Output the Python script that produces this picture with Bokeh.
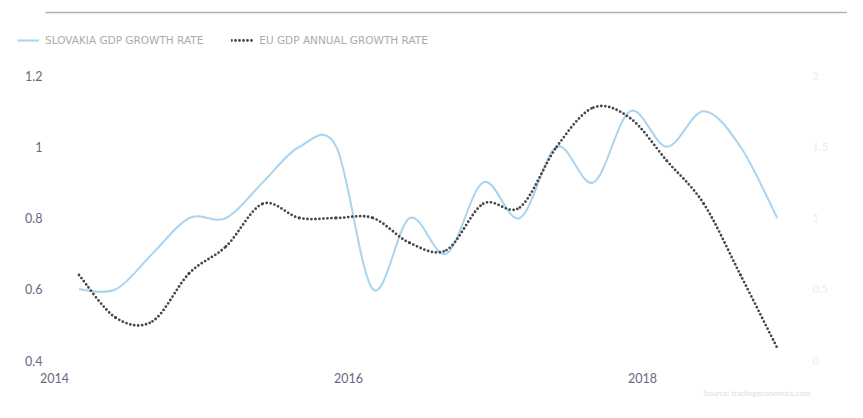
import numpy as np
from bokeh.plotting import figure
from bokeh.models import (Range1d, LinearAxis, FixedTicker, ColumnDataSource,
                          Legend, LegendItem, Title)
from bokeh.embed import file_html
from bokeh.resources import INLINE

# ---------------- data ----------------
quarters = ["2014-03", "2014-06", "2014-09", "2014-12",
            "2015-03", "2015-06", "2015-09", "2015-12",
            "2016-03", "2016-06", "2016-09", "2016-12",
            "2017-03", "2017-06", "2017-09", "2017-12",
            "2018-03", "2018-06", "2018-09", "2018-12"]
slovakia_gdp = [0.6, 0.6, 0.7, 0.8, 0.8, 0.9, 1.0, 1.0, 0.6, 0.8,
                0.7, 0.9, 0.8, 1.0, 0.9, 1.1, 1.0, 1.1, 1.0, 0.8]
eu_gdp = [0.64, 0.52, 0.51, 0.645, 0.72, 0.84, 0.80, 0.80, 0.80, 0.73,
          0.71, 0.84, 0.83, 1.00, 1.11, 1.08, 0.96, 0.84, 0.64, 0.435]
series_names = ["SLOVAKIA GDP GROWTH RATE", "EU GDP ANNUAL GROWTH RATE"]
x_ticks = [2014, 2016, 2018]
x_tick_labels = ["2014", "2016", "2018"]
left_ticks = [0.4, 0.6, 0.8, 1.0, 1.2]
left_tick_labels = ["0.4", "0.6", "0.8", "1", "1.2"]
right_ticks = [0, 0.5, 1, 1.5, 2]
right_tick_labels = ["0", "0.5", "1", "1.5", "2"]
source_text = "Source: tradingeconomics.com"

# ---------------- styles / layout ----------------
SK_COLOR = "#a9d3ee"
EU_COLOR = "#474747"
TICK_COLOR = "#6e6585"
LEGEND_TEXT = "#ababab"

W, H = 847, 402
FL, FR = 2, W          # frame left / right (px)
FT, FB = 0, 360        # frame top / bottom (px)
X0_PX, PX_PER_YEAR = 54, 147.0   # where 2014 sits, pixels per year
Y_LO, Y_HI, Y_LO_PX, Y_HI_PX = 0.4, 1.2, 360, 75


def to_year(q):
    y, m = q.split("-")
    return int(y) + (int(m) - 1) / 12.0


def px_to_x(px):
    return x_ticks[0] + (px - X0_PX) / PX_PER_YEAR


def px_to_y(py):
    return Y_LO + (Y_LO_PX - py) * (Y_HI - Y_LO) / (Y_LO_PX - Y_HI_PX)


def smooth_segments(xs, ys):
    """Catmull-Rom spline through the points, expressed as Bezier segments."""
    x = np.asarray(xs, float)
    y = np.asarray(ys, float)
    n = len(x)
    xp = np.concatenate([[x[0]], x, [x[-1]]])
    yp = np.concatenate([[y[0]], y, [y[-1]]])
    return dict(
        x0=x[:-1], y0=y[:-1], x1=x[1:], y1=y[1:],
        cx0=x[:-1] + (xp[2:n + 1] - xp[0:n - 1]) / 6.0,
        cy0=y[:-1] + (yp[2:n + 1] - yp[0:n - 1]) / 6.0,
        cx1=x[1:] - (xp[3:n + 2] - xp[1:n]) / 6.0,
        cy1=y[1:] - (yp[3:n + 2] - yp[1:n]) / 6.0,
    )


years = [to_year(q) for q in quarters]

p = figure(width=W, height=H,
           x_range=Range1d(px_to_x(FL), px_to_x(FR)),
           y_range=Range1d(px_to_y(FB), px_to_y(FT)),
           output_backend="svg", toolbar_location=None,
           min_border_left=FL, min_border_right=W - FR, min_border_top=FT,
           min_border_bottom=H - FB)
try:
    p.title = None
except Exception:
    pass
p.grid.visible = False
p.outline_line_color = None
p.background_fill_color = "white"

r_sk = p.bezier(x0="x0", y0="y0", x1="x1", y1="y1", cx0="cx0", cy0="cy0", cx1="cx1", cy1="cy1",
                source=ColumnDataSource(smooth_segments(years, slovakia_gdp)),
                line_color=SK_COLOR, line_width=2)
r_eu = p.bezier(x0="x0", y0="y0", x1="x1", y1="y1", cx0="cx0", cy0="cy0", cx1="cx1", cy1="cy1",
                source=ColumnDataSource(smooth_segments(years, eu_gdp)),
                line_color=EU_COLOR, line_width=2.8, line_dash="0 4", line_cap="round")

for ax in (p.xaxis[0], p.yaxis[0]):
    ax.axis_line_color = None
    ax.major_tick_line_color = None
    ax.minor_tick_line_color = None
    ax.major_tick_out = 0
    ax.major_tick_in = 0
    ax.minor_tick_out = 0
    ax.major_label_text_color = TICK_COLOR
    ax.major_label_text_font = "Lato"
    ax.major_label_text_font_size = "12.5px"

p.xaxis[0].ticker = FixedTicker(ticks=x_ticks)
p.xaxis[0].major_label_overrides = dict(zip(x_ticks, x_tick_labels))
p.xaxis[0].major_label_standoff = 12
p.yaxis[0].ticker = FixedTicker(ticks=left_ticks)
p.yaxis[0].major_label_overrides = dict(zip(left_ticks, left_tick_labels))
p.yaxis[0].major_label_standoff = FL - 42          # labels end at x = 42

# right axis: same pixel rows as the left ticks
r_top = right_ticks[-1] * (FB - FT) / (Y_LO_PX - Y_HI_PX)
p.extra_y_ranges = {"right": Range1d(right_ticks[0], r_top)}
rax = LinearAxis(y_range_name="right", ticker=FixedTicker(ticks=right_ticks),
                 major_label_overrides=dict(zip(right_ticks, right_tick_labels)))
rax.axis_line_color = None
rax.major_tick_line_color = None
rax.minor_tick_line_color = None
rax.major_tick_out = 0
rax.major_tick_in = 0
rax.minor_tick_out = 0
rax.major_label_text_color = "#ececec"
rax.major_label_text_font = "Lato"
rax.major_label_text_font_size = "11px"
rax.major_label_standoff = 812 - FR               # labels start at x = 812
p.add_layout(rax, "right")

# thin grey rule at the top
p.segment(x0=[px_to_x(45)], y0=[px_to_y(12)], x1=[px_to_x(FR)], y1=[px_to_y(12)],
          line_color="#b4b4b4", line_width=1.5)

# legend (inside the extended plot area)
LEG_H = 14
legend = Legend(items=[LegendItem(label=series_names[0], renderers=[r_sk]),
                       LegendItem(label=series_names[1], renderers=[r_eu])],
                location=(17 - FL, FB - (40 - LEG_H / 2) - LEG_H), orientation="horizontal",
                label_text_font="DejaVu Sans", label_text_font_size="10.5px",
                label_text_color=LEGEND_TEXT, glyph_width=22, glyph_height=LEG_H,
                label_height=LEG_H, label_standoff=6, spacing=28, padding=0, margin=0,
                border_line_color=None, background_fill_alpha=0)
p.add_layout(legend, "center")

p.add_layout(Title(text=source_text, align="left", text_font_size="8px", offset=703 - FL,
                   standoff=0, text_color="#dddddd", text_font="Lato",
                   text_font_style="normal"), "below")

open("out.html", "w").write(file_html(p, INLINE))
